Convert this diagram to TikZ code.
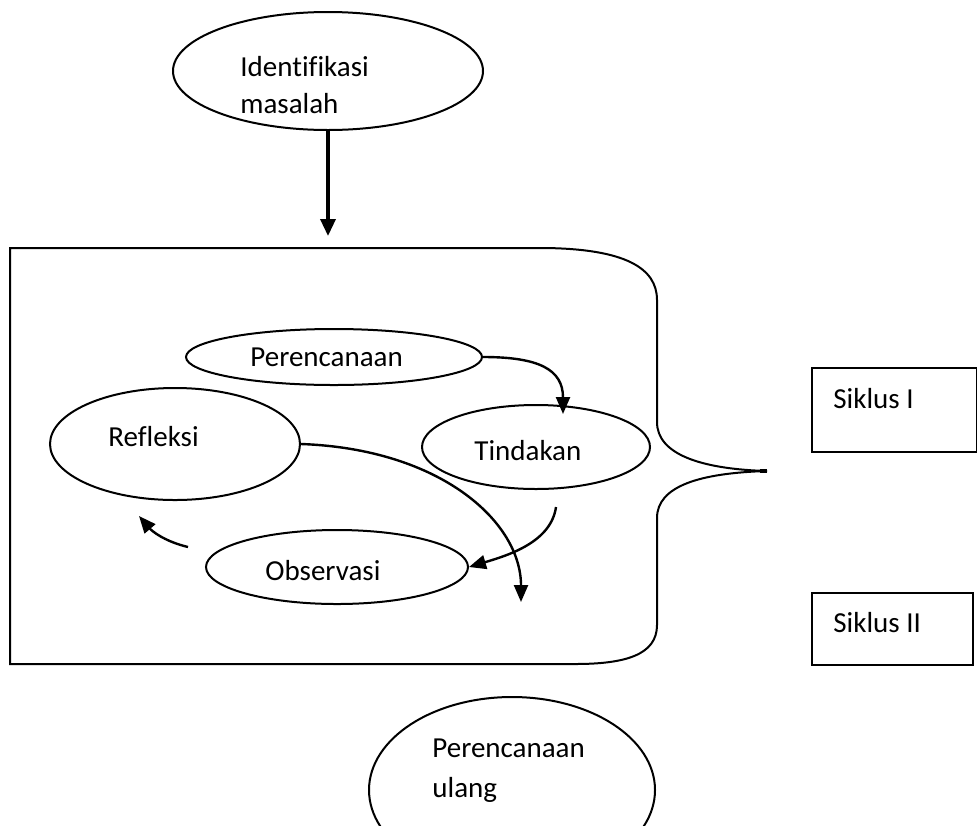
\documentclass[tikz,border=0pt]{standalone}
\usepackage{fontspec}
\setmainfont{Carlito}[Ligatures={NoCommon}]
\usetikzlibrary{shapes.geometric,arrows.meta}
\begin{document}
\begin{tikzpicture}[x=0.5pt,y=-0.5pt,
  oval/.style={draw, ellipse, line width=1pt, inner sep=0pt},
  lbl/.style={anchor=base west, inner sep=0pt, font=\fontsize{14.5pt}{17.5pt}\selectfont},
  sbox/.style={draw, rectangle, line width=1pt, inner sep=0pt},
  conn/.style={line width=1.2pt, -{Triangle[length=8.5pt,width=7pt]}},
  main/.style={line width=1.7pt, -{Triangle[length=8.5pt,width=7.5pt]}}]
\clip (0,0) rectangle (977,825);
% ellipses
\node[oval, minimum width=155pt, minimum height=59pt] (ident) at (328,71) {};
\node[oval, minimum width=148pt, minimum height=28pt] (perenc) at (334,357) {};
\node[oval, minimum width=125pt, minimum height=56pt] (refl) at (175,444) {};
\node[oval, minimum width=114pt, minimum height=42pt] (tind) at (536,447) {};
\node[oval, minimum width=131pt, minimum height=37pt] (obs) at (337,567) {};
\node[oval, minimum width=143pt, minimum height=93pt] (ulang) at (512,790) {};
% texts
\node[lbl] (tident1) at (240,76) {Identifikasi};
\node[lbl] (tident2) at (240,113) {masalah};
\node[lbl] (tperenc) at (250,366) {Perencanaan};
\node[lbl] (trefl) at (108,446) {Refleksi};
\node[lbl] (ttind) at (474,460) {Tindakan};
\node[lbl] (tobs) at (265,580) {Observasi};
\node[lbl] (tulang1) at (432,757) {Perencanaan};
\begin{scope}
\clip (0,0) rectangle (977,801);
\node[lbl] (tulang2) at (432,797) {ulang};
\end{scope}
% siklus boxes
\node[sbox, minimum width=82.5pt, minimum height=42pt] (s1) at (894.5,410) {};
\node[sbox, minimum width=80.5pt, minimum height=36pt] (s2) at (892.5,629) {};
\node[lbl] (ts1) at (833,408) {Siklus I};
\node[lbl] (ts2) at (833,632) {Siklus II};
% bracket frame
\coordinate (bp) at (767,471);
\draw[line width=1pt] (10,248) -- (545,248)
  .. controls (625,249) and (657,268) .. (657,300) -- (657,422)
  .. controls (657,454) and (700,469) .. (bp)
  .. controls (700,473) and (657,486) .. (657,518) -- (657,625)
  .. controls (657,655) and (625,664) .. (575,664) -- (10,664) -- cycle;
\draw[line width=1.6pt] (bp) -- (760,471);
% connectors
\coordinate (a0) at (328,236);
\draw[main] (ident.south) -- (a0);
\coordinate (t1) at (563,414);
\draw[conn] (perenc.east) .. controls +(55,0) and +(0,-45) .. (t1);
\coordinate (s2c) at (556,507);
\draw[conn] (s2c) .. controls +(-5,35) and +(40,-12) .. (obs.east);
\coordinate (t3) at (521,602);
\draw[conn] (refl.east) .. controls +(140,5) and +(0,-80) .. (t3);
\coordinate (s4c) at (188,547);
\coordinate (t4) at (139,516);
\draw[conn] (s4c) .. controls +(-25,-6) and +(12,14) .. (t4);
\end{tikzpicture}
\end{document}
